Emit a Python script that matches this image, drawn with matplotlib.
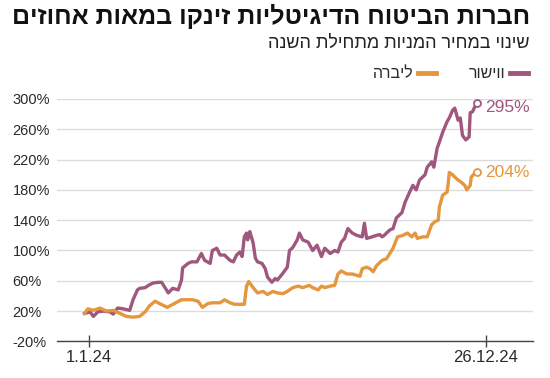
import matplotlib.pyplot as plt

# נתונים שנקראו מהגרף (יום מתחילת השנה, שינוי באחוזים)
wishor_days = [-4, 1, 4, 8, 13, 19, 22, 26, 31, 37, 40, 44, 46, 51, 54, 58, 63, 66, 69, 72,
               76, 81, 84, 85, 90, 93, 98, 102, 105, 110, 112, 116, 119, 123, 128, 131, 134,
               137, 139, 141, 143, 144, 146, 149, 151, 153, 157, 160, 162, 166, 169, 171, 176,
               180, 182, 185, 189, 191, 194, 199, 203, 207, 211, 214, 219, 223, 226, 229, 232,
               235, 239, 243, 248, 250, 252, 257, 261, 264, 266, 268, 270, 273, 276, 279, 284,
               287, 291, 294, 297, 300, 305, 307, 311, 313, 316, 318, 321, 325, 327, 330, 332,
               335, 337, 339, 342, 345, 346, 348, 352]
wishor_vals = [17, 19, 13, 19, 20, 19, 16, 24, 23, 21, 35, 48, 50, 51, 54, 57, 58, 58, 51, 44,
               50, 48, 61, 77, 83, 85, 85, 96, 87, 83, 100, 103, 94, 94, 87, 85, 94,
               98, 92, 118, 123, 114, 125, 110, 90, 85, 83, 76, 65, 58, 63, 61, 70,
               78, 100, 104, 114, 123, 114, 111, 100, 107, 92, 103, 96, 100, 98, 111, 116,
               129, 123, 120, 118, 136, 116, 118, 120, 121, 118, 120, 123, 127, 129, 143, 150,
               164, 177, 186, 180, 193, 200, 210, 217, 210, 235, 243, 256, 270, 275, 285, 288,
               272, 275, 252, 246, 250, 282, 283, 295]

libra_days = [-4, -1, 4, 10, 16, 22, 28, 34, 40, 46, 51, 55, 60, 64, 71, 75, 80, 84, 89, 94,
              99, 103, 108, 112, 119, 123, 128, 132, 137, 141, 143, 145, 149, 153, 158, 162,
              167, 171, 176, 180, 185, 190, 194, 200, 203, 208, 211, 214, 219, 223, 226, 229,
              234, 239, 246, 248, 252, 255, 258, 261, 266, 270, 276, 280, 285, 289, 293, 296,
              298, 303, 307, 311, 314, 317, 318, 321, 325, 326, 327, 330, 332, 335, 338, 341,
              343, 346, 347, 350, 352]
libra_vals = [17, 23, 21, 24, 20, 21, 17, 13, 12, 13, 19, 27, 33, 30, 25, 28, 32, 35, 35, 35,
              33, 25, 30, 31, 31, 35, 31, 29, 29, 29, 53, 59, 51, 44, 46, 42,
              46, 44, 43, 46, 51, 53, 51, 54, 51, 48, 53, 51, 53, 54, 69, 73,
              69, 69, 66, 76, 78, 76, 72, 80, 87, 89, 103, 118, 120, 123, 118, 123,
              116, 118, 118, 134, 138, 140, 157, 173, 177, 188, 203, 200, 197, 193, 190, 186,
              180, 186, 197, 202, 204]

y_ticks = [-20, 20, 60, 100, 140, 180, 220, 260, 300]
x_ticks = [0, 360]
x_labels = ['1.1.24', '26.12.24']

purple = '#a0577d'
orange = '#e6963c'
grey_text = '#2a2a2a'


def heb(s):
    # matplotlib לא מטפל בכיווניות, לכן הופכים את הסדר
    return s[::-1]


fam = ['Liberation Sans', 'DejaVu Sans']
plt.rcParams['font.family'] = fam

fig = plt.figure(figsize=(5.5, 3.78), dpi=100)
ax = fig.add_axes([57 / 550, 1 - 341.4 / 378, (533 - 57) / 550, (341.4 - 99) / 378])

ax.plot(wishor_days, wishor_vals, color=purple, lw=2.4, solid_joinstyle='round', zorder=3)
ax.plot(libra_days, libra_vals, color=orange, lw=2.4, solid_joinstyle='round', zorder=3)
ax.plot(wishor_days[-1], wishor_vals[-1], 'o', ms=5, mfc='white', mec=purple, mew=1.3, zorder=4)
ax.plot(libra_days[-1], libra_vals[-1], 'o', ms=5, mfc='white', mec=orange, mew=1.3, zorder=4)
ax.text(wishor_days[-1] + 8, wishor_vals[-1] - 6, '%d%%' % wishor_vals[-1], color=purple,
        fontsize=12.5, va='center', ha='left')
ax.text(libra_days[-1] + 8, libra_vals[-1] - 1, '%d%%' % libra_vals[-1], color=orange,
        fontsize=12.5, va='center', ha='left')

ax.set_xlim(-29, 403)
ax.set_ylim(-20, 300)
ax.set_yticks(y_ticks)
ax.set_yticklabels(['%d%%' % v for v in y_ticks])
ax.set_xticks(x_ticks)
ax.set_xticklabels(x_labels)
ax.yaxis.grid(True, color='#dcdcdc', lw=1)
ax.set_axisbelow(True)
for s in ['top', 'right', 'left']:
    ax.spines[s].set_visible(False)
ax.spines['bottom'].set_color('#444444')
ax.spines['bottom'].set_linewidth(1)
ax.tick_params(axis='y', length=0, pad=32, labelsize=10.5, labelcolor=grey_text)
for lab in ax.get_yticklabels():
    lab.set_ha('left')
ax.tick_params(axis='x', direction='inout', length=8, width=1, color='#444444',
               labelsize=12, labelcolor=grey_text, pad=2)

fig.text(530 / 550, 1 - 16 / 378, heb('חברות הביטוח הדיגיטליות זינקו במאות אחוזים'),
         ha='right', va='center', fontsize=18, fontweight='bold', color='#111111')
fig.text(530 / 550, 1 - 43 / 378, heb('שינוי במחיר המניות מתחילת השנה'),
         ha='right', va='center', fontsize=13, color='#222222')

# מקרא
fig.add_artist(plt.Line2D([510 / 550, 528 / 550], [1 - 73 / 378] * 2, color=purple, lw=3.5))
fig.text(505 / 550, 1 - 73 / 378, heb('ווישור'), ha='right', va='center', fontsize=11.5,
         color=grey_text)
fig.add_artist(plt.Line2D([418 / 550, 436 / 550], [1 - 73 / 378] * 2, color=orange, lw=3.5))
fig.text(413 / 550, 1 - 73 / 378, heb('ליברה'), ha='right', va='center', fontsize=11.5,
         color=grey_text)

fig.savefig('out.png', dpi=100)
